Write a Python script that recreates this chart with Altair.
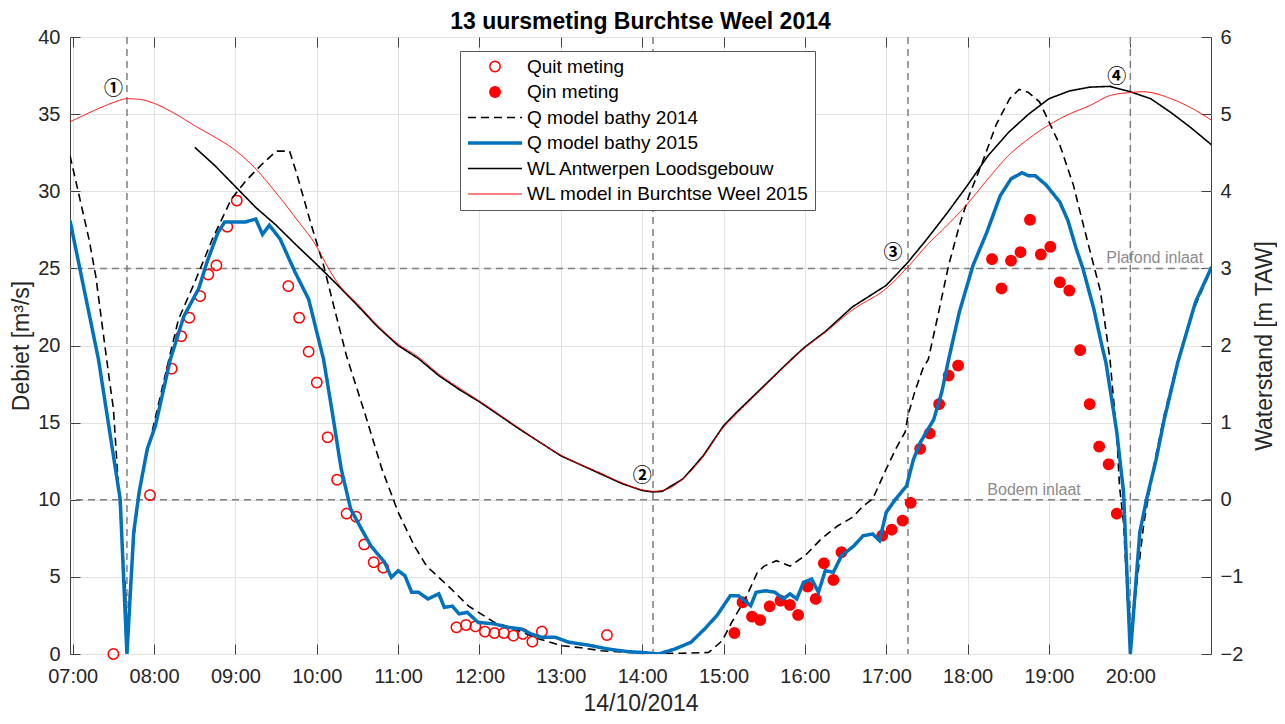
import altair as alt
import pandas as pd

DAY = "2014-10-14"


def stamp(hm):
    return f"{DAY}T{hm}:00Z"


# ---------------- series names / styling scales ----------------
SERIES = ["Quit meting", "Qin meting", "Q model bathy 2014", "Q model bathy 2015",
          "WL Antwerpen Loodsgebouw", "WL model in Burchtse Weel 2015"]
STROKES = ["#FF0000", "#FF0000", "#000000", "#0072BD", "#000000", "#FF0000"]
FILLS = ["transparent", "#FF0000", "transparent", "transparent", "transparent", "transparent"]
CIRCLE = ("M0.19,0C0.19,0.105,0.105,0.19,0,0.19C-0.105,0.19,-0.19,0.105,-0.19,0"
          "C-0.19,-0.105,-0.105,-0.19,0,-0.19C0.105,-0.19,0.19,-0.105,0.19,0Z")
HLINE = "M-1,0L1,0"
SHAPES = [CIRCLE, CIRCLE, HLINE, HLINE, HLINE, HLINE]
DASHES = [[1, 0], [1, 0], [8, 5], [1, 0], [1, 0], [1, 0]]
WIDTHS = [1.5, 1.5, 1.6, 3.5, 1.6, 1.0]

# ---------------- measurements (m3/s) ----------------
quit_t = ["07:30", "07:57", "08:13", "08:20", "08:26", "08:34", "08:40", "08:46", "08:54", "09:01",
          "09:39", "09:47", "09:54", "10:00", "10:08", "10:15", "10:22", "10:29", "10:35", "10:42",
          "10:49", "11:43", "11:50", "11:57", "12:04", "12:11", "12:18", "12:25", "12:32", "12:39",
          "12:46", "13:34"]
quit_q = [0.0, 10.3, 18.5, 20.6, 21.8, 23.2, 24.6, 25.2, 27.7, 29.4,
          23.85, 21.8, 19.6, 17.6, 14.05, 11.3, 9.1, 8.9, 7.1, 5.95,
          5.6, 1.73, 1.88, 1.79, 1.45, 1.36, 1.36, 1.19, 1.3, 0.8,
          1.45, 1.23]

qin_t = ["15:08", "15:14", "15:21", "15:27", "15:34", "15:42", "15:49", "15:55", "16:02", "16:08",
         "16:14", "16:21", "16:27", "16:57", "17:04", "17:12", "17:18", "17:25", "17:32", "17:39",
         "17:46", "17:53", "18:18", "18:25", "18:32", "18:39", "18:46", "18:54", "19:01", "19:08",
         "19:15", "19:23", "19:30", "19:37", "19:44", "19:50"]
qin_q = [1.36, 3.35, 2.42, 2.2, 3.09, 3.46, 3.18, 2.53, 4.37, 3.57,
         5.88, 4.8, 6.6, 7.67, 8.06, 8.65, 9.8, 13.3, 14.3, 16.2,
         18.05, 18.7, 25.6, 23.7, 25.5, 26.05, 28.15, 25.9, 26.4, 24.1,
         23.56, 19.7, 16.2, 13.45, 12.3, 9.1]

# ---------------- model discharges (m3/s) ----------------
q14_t = ["06:58", "07:04", "07:12", "07:17", "07:24", "07:27", "07:30", "07:34", "07:39", "07:40",
         "07:42", "07:46", "07:51", "07:58", "08:08", "08:18", "08:30", "08:43", "08:57", "09:08",
         "09:19", "09:30", "09:40", "09:45", "09:56", "10:05", "10:13", "10:22", "10:36", "10:48",
         "11:00", "11:12", "11:21", "11:37", "11:52", "12:11", "12:26", "12:44", "13:01", "13:15",
         "13:30", "14:00", "14:29", "14:49", "14:59", "15:06", "15:16", "15:25", "15:30", "15:39",
         "15:49", "16:00", "16:12", "16:24", "16:35", "16:43", "16:50", "17:00", "17:07", "17:14",
         "17:16", "17:21", "17:27", "17:31", "17:38", "17:46", "17:54", "18:01", "18:11", "18:21",
         "18:31", "18:38", "18:45", "18:53", "19:00", "19:08", "19:18", "19:28", "19:38", "19:45",
         "19:50", "19:52", "19:55", "20:00", "20:04", "20:10", "20:18", "20:25", "20:32", "20:45",
         "21:00"]
q14_q = [32.3, 30.0, 26.9, 24.5, 19.8, 17.8, 15.9, 10.5, 4.0, 0.0,
         4.0, 8.3, 11.6, 14.2, 18.0, 21.7, 24.1, 26.9, 29.5, 30.7,
         31.7, 32.6, 32.6, 31.2, 27.8, 25.2, 22.4, 19.3, 15.45, 12.0,
         9.2, 7.0, 5.7, 4.4, 3.1, 2.05, 1.62, 0.97, 0.54, 0.4,
         0.21, 0.05, 0.05, 0.1, 0.86, 2.05, 3.57, 5.3, 5.7, 6.05,
         5.7, 6.37, 7.46, 8.3, 8.85, 9.6, 10.05, 12.0, 13.3, 14.4,
         15.45, 17.0, 18.5, 19.1, 21.9, 25.2, 27.8, 29.7, 31.9, 34.3,
         36.0, 36.6, 36.4, 35.8, 34.5, 33.0, 30.4, 26.9, 23.5, 19.1,
         14.2, 10.9, 8.5, 0.0, 4.0, 8.5, 12.5, 15.5, 18.0, 22.0,
         25.0]

q15_t = ["06:58", "07:19", "07:30", "07:35", "07:40", "07:45", "07:49", "07:55", "08:01", "08:12",
         "08:22", "08:33", "08:39", "08:47", "08:52", "09:07", "09:15", "09:20", "09:25", "09:33",
         "09:44", "09:54", "10:05", "10:11", "10:18", "10:25", "10:33", "10:40", "10:50", "10:55",
         "11:00", "11:05", "11:10", "11:15", "11:22", "11:30", "11:34", "11:40", "11:45", "11:51",
         "11:59", "12:11", "12:21", "12:31", "12:38", "12:46", "12:56", "13:06", "13:20", "13:35",
         "13:50", "14:00", "14:12", "14:24", "14:36", "14:46", "14:55", "15:05", "15:11", "15:20",
         "15:24", "15:31", "15:38", "15:44", "15:49", "15:54", "15:59", "16:05", "16:10", "16:15",
         "16:21", "16:27", "16:36", "16:43", "16:50", "16:55", "17:00", "17:07", "17:15", "17:20",
         "17:25", "17:35", "17:41", "17:46", "17:54", "18:04", "18:14", "18:24", "18:32", "18:40",
         "18:45", "18:50", "18:58", "19:08", "19:14", "19:20", "19:25", "19:33", "19:39", "19:42",
         "19:50", "19:55", "20:00", "20:07", "20:12", "20:19", "20:25", "20:35", "20:48", "21:00"]
q15_q = [28.1, 19.1, 12.86, 10.05, 0.0, 7.9, 10.5, 13.3, 14.8, 19.1,
         21.9, 23.7, 25.4, 27.3, 28.0, 28.0, 28.2, 27.2, 27.8, 26.9,
         24.75, 23.0, 19.1, 15.9, 12.0, 9.4, 8.1, 7.0, 5.95, 4.97,
         5.4, 5.08, 4.0, 4.0, 3.57, 3.9, 3.03, 3.1, 2.6, 2.7,
         2.05, 1.95, 1.73, 1.62, 1.3, 1.08, 1.08, 0.76, 0.58, 0.32,
         0.15, 0.1, 0.0, 0.32, 0.76, 1.62, 2.48, 3.78, 3.78, 3.13,
         4.0, 4.1, 4.0, 3.57, 3.9, 3.57, 4.65, 4.86, 4.0, 5.4,
         5.3, 6.37, 7.0, 7.67, 7.78, 7.35, 9.19, 10.05, 10.9, 12.6,
         13.7, 15.2, 17.0, 19.1, 22.2, 25.2, 27.3, 29.7, 30.8, 31.2,
         31.0, 31.0, 30.4, 29.3, 28.1, 26.3, 25.0, 22.4, 20.0, 18.9,
         14.4, 10.5, 0.0, 7.9, 10.05, 12.6, 15.2, 18.9, 22.8, 25.1]

# ---------------- water levels (m TAW) ----------------
wla_t = ["08:30", "08:45", "09:00", "09:15", "09:30", "09:45", "10:00", "10:15", "10:30", "10:45",
         "11:00", "11:15", "11:30", "11:45", "12:00", "12:30", "13:00", "13:30", "13:45", "14:00",
         "14:08", "14:15", "14:30", "14:45", "15:00", "15:10", "15:30", "15:50", "16:00", "16:15",
         "16:35", "17:00", "17:16", "17:30", "17:45", "18:00", "18:15", "18:30", "18:45", "19:00",
         "19:15", "19:30", "19:45", "20:00", "20:15", "20:30", "20:45", "21:00"]
wla_w = [4.57, 4.33, 4.06, 3.79, 3.56, 3.30, 3.05, 2.79, 2.52, 2.24,
         2.00, 1.83, 1.61, 1.43, 1.27, 0.91, 0.57, 0.33, 0.21, 0.12,
         0.10, 0.11, 0.27, 0.57, 0.96, 1.14, 1.48, 1.82, 1.98, 2.18,
         2.50, 2.78, 3.08, 3.38, 3.72, 4.08, 4.46, 4.76, 5.00, 5.20,
         5.30, 5.35, 5.36, 5.29, 5.20, 5.02, 4.82, 4.60]

wlm_t = ["06:58", "07:10", "07:20", "07:30", "07:40", "07:50", "08:00", "08:15", "08:30", "08:45",
         "09:00", "09:15", "09:30", "09:45", "10:00", "10:08", "10:15", "10:30", "10:45", "11:00",
         "11:15", "11:30", "11:45", "12:00", "12:30", "13:00", "13:30", "13:45", "14:00", "14:08",
         "14:15", "14:30", "14:45", "15:00", "15:10", "15:30", "15:50", "16:00", "16:15", "16:35",
         "17:00", "17:16", "17:30", "17:45", "18:00", "18:15", "18:30", "18:45", "19:00", "19:15",
         "19:30", "19:45", "20:00", "20:10", "20:15", "20:30", "20:45", "21:00"]
wlm_w = [4.90, 5.00, 5.08, 5.15, 5.20, 5.19, 5.14, 5.01, 4.85, 4.70,
         4.53, 4.29, 3.98, 3.64, 3.28, 3.02, 2.82, 2.54, 2.26, 2.02,
         1.85, 1.63, 1.45, 1.28, 0.92, 0.58, 0.34, 0.22, 0.13, 0.11,
         0.12, 0.27, 0.56, 0.94, 1.12, 1.47, 1.81, 1.97, 2.17, 2.46,
         2.74, 3.02, 3.30, 3.56, 3.84, 4.16, 4.46, 4.68, 4.86, 5.00,
         5.11, 5.24, 5.28, 5.29, 5.28, 5.20, 5.08, 4.92]

# ---------------- reference lines / annotations ----------------
event_t = ["07:40", "14:08", "17:16", "20:00"]
event_lbl = ["①", "②", "③", "④"]
event_lbl_t = ["07:30", "14:00", "17:05", "19:50"]
event_lbl_q = [36.6, 11.55, 26.0, 37.4]
level_q = [25, 10]
level_lbl = ["Plafond inlaat", "Bodem inlaat"]
level_lbl_t = ["20:18", "18:49"]

# ---------------- data frames ----------------
pts_df = pd.concat([
    pd.DataFrame({"t": [stamp(t) for t in quit_t], "v": quit_q, "series": SERIES[0]}),
    pd.DataFrame({"t": [stamp(t) for t in qin_t], "v": qin_q, "series": SERIES[1]}),
])
q14_df = pd.DataFrame({"t": [stamp(t) for t in q14_t], "v": q14_q, "series": SERIES[2]})
q15_df = pd.DataFrame({"t": [stamp(t) for t in q15_t], "v": q15_q, "series": SERIES[3]})
wla_df = pd.DataFrame({"t": [stamp(t) for t in wla_t], "w": wla_w, "series": SERIES[4]})
wlm_df = pd.DataFrame({"t": [stamp(t) for t in wlm_t], "w": wlm_w, "series": SERIES[5]})
ev_df = pd.DataFrame({"t": [stamp(t) for t in event_t]})
evl_df = pd.DataFrame({"t": [stamp(t) for t in event_lbl_t], "v": event_lbl_q, "label": event_lbl})
lv_df = pd.DataFrame({"v": level_q})
lvl_df = pd.DataFrame({"t": [stamp(t) for t in level_lbl_t], "v": level_q, "label": level_lbl})

FONT = "Liberation Sans"
TXT = "#262626"
AX = "#404040"
GRID = "#e3e3e3"
TICK = 10


def dt(h, m, s=0):
    return alt.DateTime(year=2014, month=10, date=14, hours=h, minutes=m, seconds=s, utc=True)


HOURS = [dt(h, 0) for h in range(7, 21)]
x_scale = alt.Scale(type="utc", domain=[dt(6, 58), dt(20, 59, 30)])
x_axis = alt.Axis(values=HOURS, format="%H:%M", labelFlush=False,
                  labelFontSize=20, labelFont=FONT, labelColor=TXT, labelPadding=12,
                  ticks=True, tickSize=TICK, tickColor=AX, offset=-TICK, domain=False,
                  grid=True, gridColor=GRID,
                  title="14/10/2014", titleFontSize=23, titleFont=FONT, titleColor=TXT,
                  titleFontWeight="normal", titlePadding=6)
X = alt.X("t:T", scale=x_scale, axis=x_axis)
x_top_axis = alt.Axis(orient="top", values=HOURS, labels=False, title=None, domain=False,
                      grid=False, ticks=True, tickSize=TICK, tickColor=AX, offset=-TICK)
Xtop = alt.X("t:T", scale=x_scale, axis=x_top_axis)

yq_axis = alt.Axis(values=list(range(0, 41, 5)), labelFontSize=20, labelFont=FONT, labelColor=TXT,
                   labelPadding=10, ticks=True, tickSize=TICK, tickColor=AX, offset=-TICK,
                   domain=False, grid=True, gridColor=GRID,
                   title="Debiet [m³/s]", titleFontSize=23, titleFont=FONT,
                   titleColor=TXT, titleFontWeight="normal", titlePadding=4)
Yq = alt.Y("v:Q", scale=alt.Scale(domain=[0, 40], nice=False), axis=yq_axis)

yw_axis = alt.Axis(orient="right", values=list(range(-2, 7)), labelFontSize=20, labelFont=FONT,
                   labelColor=TXT, labelPadding=9, ticks=True, tickSize=TICK, tickColor=AX,
                   offset=-TICK, domain=False, grid=False,
                   title="Waterstand [m TAW]", titleFontSize=23, titleFont=FONT,
                   titleColor=TXT, titleFontWeight="normal", titlePadding=11,
                   titleAngle=270, titleBaseline="top")
Yw = alt.Y("w:Q", scale=alt.Scale(domain=[-2, 6], nice=False, zero=False), axis=yw_axis)

legend = alt.Legend(title=None, orient="none", legendX=390, legendY=14, direction="vertical",
                    fillColor="white", strokeColor="#555555", padding=6, symbolSize=2916,
                    clipHeight=19, rowPadding=5.5, labelFontSize=19, labelFont=FONT,
                    labelColor="#000000", labelOffset=3, labelLimit=400,
                    symbolStrokeWidth=1.5, symbolOpacity=1)

stroke_enc = alt.Stroke("series:N", scale=alt.Scale(domain=SERIES, range=STROKES), legend=legend)
dash_enc = alt.StrokeDash("series:N", scale=alt.Scale(domain=SERIES, range=DASHES), legend=legend)
fill_enc = alt.Fill("series:N", scale=alt.Scale(domain=SERIES, range=FILLS), legend=legend)
shape_enc = alt.Shape("series:N", scale=alt.Scale(domain=SERIES, range=SHAPES), legend=legend)
width_enc = alt.StrokeWidth("series:N", scale=alt.Scale(type="ordinal", domain=SERIES, range=WIDTHS),
                            legend=legend)

hrules = alt.Chart(lv_df).mark_rule(color="#7f7f7f", strokeDash=[7, 5], strokeWidth=1.5).encode(y=Yq)
vrules = alt.Chart(ev_df).mark_rule(color="#7f7f7f", strokeDash=[7, 5], strokeWidth=1.5).encode(x=X)
ev_text = alt.Chart(evl_df).mark_text(font="Noto Sans CJK SC", fontSize=19, fontWeight="bold",
                                      color="#000000").encode(x=X, y=Yq, text="label:N")
lv_text = alt.Chart(lvl_df).mark_text(font=FONT, fontSize=16, color="#8c8c8c", baseline="bottom",
                                      dy=-2).encode(x=X, y=Yq, text="label:N")

pts = alt.Chart(pts_df).mark_point(size=2916, opacity=1).encode(
    x=X, y=Yq, stroke=stroke_enc, fill=fill_enc, shape=shape_enc, strokeDash=dash_enc,
    strokeWidth=width_enc)
l14 = alt.Chart(q14_df).mark_line(clip=True).encode(
    x=X, y=Yq, stroke=stroke_enc, strokeDash=dash_enc, strokeWidth=width_enc)
l15 = alt.Chart(q15_df).mark_line(clip=True).encode(
    x=X, y=Yq, stroke=stroke_enc, strokeDash=dash_enc, strokeWidth=width_enc)

wla = alt.Chart(wla_df).mark_line(clip=True).encode(
    x=Xtop, y=Yw, stroke=stroke_enc, strokeDash=dash_enc, strokeWidth=width_enc)
wlm = alt.Chart(wlm_df).mark_line(clip=True, interpolate="monotone").encode(
    x=Xtop, y=Yw, stroke=stroke_enc, strokeDash=dash_enc, strokeWidth=width_enc)

left = alt.layer(hrules, vrules, ev_text, lv_text, pts, l14, l15)
right = alt.layer(wla, wlm)

chart = alt.layer(left, right).resolve_scale(y="independent").resolve_axis(x="independent").properties(
    width=1141, height=617,
    title=alt.TitleParams("13 uursmeting Burchtse Weel 2014", fontSize=23, font=FONT,
                          fontWeight="bold", color="#000000", offset=-7, anchor="middle"),
    padding={"left": 2, "top": 3, "right": 0, "bottom": 0},
    background="white",
).configure_view(stroke=AX, strokeWidth=1)

chart.save("out.html", embed_options={"renderer": "svg", "actions": False})
